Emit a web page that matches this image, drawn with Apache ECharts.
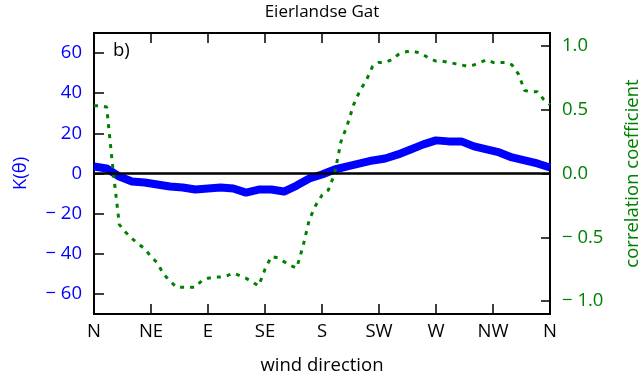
<!DOCTYPE html>
<html>
<head>
<meta charset="utf-8">
<script src="https://cdn.jsdelivr.net/npm/echarts@6/dist/echarts.min.js"></script>
<style>
  html, body { margin: 0; padding: 0; background: #fff; }
  #chart { width: 641px; height: 378px; }
</style>
</head>
<body>
<div id="chart"></div>
<script>
// Wind direction sectors (degrees from north) and their compass names
const dirTicks = [0, 45, 90, 135, 180, 225, 270, 315, 360];
const dirNames = ['N', 'NE', 'E', 'SE', 'S', 'SW', 'W', 'NW', 'N'];

// K(theta), sampled every 10 degrees
const kDeg = [0, 10, 20, 30, 40, 50, 60, 70, 80, 90, 100, 110, 120, 130, 140, 150, 160, 170, 180,
              190, 200, 210, 220, 230, 240, 250, 260, 270, 280, 290, 300, 310, 320, 330, 340, 350, 360];
const kValues = [3.5, 2.5, -1.5, -4, -4.5, -5.5, -6.5, -7, -8, -7.5, -7, -7.5, -9.5, -8, -8, -9, -6, -2.5, -0.5,
                 2, 3.5, 5, 6.5, 7.5, 9.5, 12, 14.5, 16.5, 16, 16, 13.5, 12, 10.5, 8, 6.5, 5, 3];

// Correlation coefficient, sampled every 5 degrees
const corrDeg = [0, 5, 10, 15, 20, 25, 30, 35, 40, 45, 50, 55, 60, 65, 70, 75, 80, 85, 90, 95, 100,
                 105, 110, 115, 120, 125, 130, 135, 140, 145, 150, 155, 160, 165, 170, 175, 180, 185, 190,
                 195, 200, 205, 210, 215, 220, 225, 230, 235, 240, 245, 250, 255, 260, 265, 270, 275, 280,
                 285, 290, 295, 300, 305, 310, 315, 320, 325, 330, 335, 340, 345, 350, 355, 360];
const corrValues = [0.53, 0.53, 0.52, 0.03, -0.40, -0.46, -0.51, -0.55, -0.59, -0.65, -0.70, -0.79, -0.84, -0.89, -0.89, -0.89, -0.89, -0.84, -0.82, -0.81, -0.81,
                    -0.80, -0.78, -0.80, -0.82, -0.85, -0.88, -0.75, -0.65, -0.66, -0.69, -0.72, -0.74, -0.57, -0.36, -0.25, -0.17, -0.13, 0.0,
                    0.25, 0.38, 0.54, 0.65, 0.73, 0.84, 0.87, 0.87, 0.89, 0.93, 0.95, 0.96, 0.95, 0.93, 0.90, 0.88, 0.88, 0.87,
                    0.86, 0.85, 0.84, 0.85, 0.87, 0.89, 0.87, 0.87, 0.87, 0.85, 0.78, 0.65, 0.64, 0.64, 0.58, 0.54];

const kTicks = [-60, -40, -20, 0, 20, 40, 60];
const corrTicks = [-1, -0.5, 0, 0.5, 1];

const FONT = '"Open Sans", "DejaVu Sans", sans-serif';
const FS = 18.5;
const BLUE = '#0000ff';
const GREEN = '#008000';
const minus = '\u2212 ';
const tickStyle = { color: '#000', width: 1.5 };

const chart = echarts.init(document.getElementById('chart'), null, { renderer: 'canvas' });

chart.setOption({
  animation: false,
  backgroundColor: '#fff',
  graphic: [{
    type: 'text', x: 322, y: 12,
    style: { text: 'Eierlandse Gat', fontFamily: FONT, fontSize: 17, fill: '#000',
             align: 'center', verticalAlign: 'middle' }
  }, {
    type: 'text', x: 113, y: 51,
    style: { text: 'b)', fontFamily: FONT, fontSize: FS, fill: '#000',
             align: 'left', verticalAlign: 'middle' }
  }],
  grid: {
    left: 94, right: 91, top: 33, bottom: 64,
    containLabel: false, outerBoundsMode: 'none',
    show: true, borderColor: '#000', borderWidth: 2, backgroundColor: 'transparent'
  },
  xAxis: [{
    type: 'value', min: 0, max: 360, position: 'bottom',
    axisLine: { show: false, onZero: false },
    splitLine: { show: false },
    axisTick: { inside: true, length: 10, customValues: dirTicks, lineStyle: tickStyle },
    axisLabel: {
      customValues: dirTicks, margin: 8,
      fontFamily: FONT, fontSize: FS, color: '#000',
      formatter: v => dirNames[dirTicks.indexOf(v)]
    },
    name: 'wind direction', nameLocation: 'middle', nameGap: 42,
    nameTextStyle: { fontFamily: FONT, fontSize: FS, color: '#000' }
  }, {
    type: 'value', min: 0, max: 360, position: 'top',
    axisLine: { show: false, onZero: false },
    splitLine: { show: false },
    axisTick: { inside: true, length: 10, customValues: dirTicks, lineStyle: tickStyle },
    axisLabel: { show: false }
  }],
  yAxis: [{
    type: 'value', min: -70, max: 70, position: 'left',
    axisLine: { show: false, onZero: false },
    splitLine: { show: false },
    axisTick: { inside: true, length: 10, customValues: kTicks, lineStyle: tickStyle },
    axisLabel: {
      customValues: kTicks, margin: 12,
      fontFamily: FONT, fontSize: FS, color: BLUE,
      formatter: v => v < 0 ? minus + Math.abs(v) : String(v)
    },
    name: 'K(\u03b8)', nameLocation: 'middle', nameGap: 64, nameRotate: 90,
    nameTextStyle: { fontFamily: FONT, fontSize: FS, color: BLUE }
  }, {
    type: 'value', min: -1.1, max: 1.1, position: 'right',
    axisLine: { show: false, onZero: false },
    splitLine: { show: false },
    axisTick: { inside: true, length: 9, customValues: corrTicks, lineStyle: tickStyle },
    axisLabel: {
      customValues: corrTicks, margin: 12,
      fontFamily: FONT, fontSize: FS, color: GREEN,
      formatter: v => v < 0 ? minus + Math.abs(v).toFixed(1) : v.toFixed(1)
    },
    name: 'correlation coefficient', nameLocation: 'middle', nameGap: 73, nameRotate: 90,
    nameTextStyle: { fontFamily: FONT, fontSize: FS, color: GREEN }
  }],
  series: [{
    name: 'K',
    type: 'line',
    xAxisIndex: 0, yAxisIndex: 0,
    data: kDeg.map((d, i) => [d, kValues[i]]),
    showSymbol: false,
    lineStyle: { color: BLUE, width: 8, join: 'round' },
    z: 3,
    markLine: {
      silent: true, symbol: 'none', label: { show: false },
      lineStyle: { color: '#000', width: 2.5, type: 'solid' },
      data: [{ yAxis: 0 }]
    }
  }, {
    name: 'correlation',
    type: 'line',
    xAxisIndex: 0, yAxisIndex: 1,
    data: corrDeg.map((d, i) => [d, corrValues[i]]),
    showSymbol: false,
    lineStyle: { color: GREEN, width: 3, type: [4, 6] },
    z: 4
  }]
});
</script>
</body>
</html>
